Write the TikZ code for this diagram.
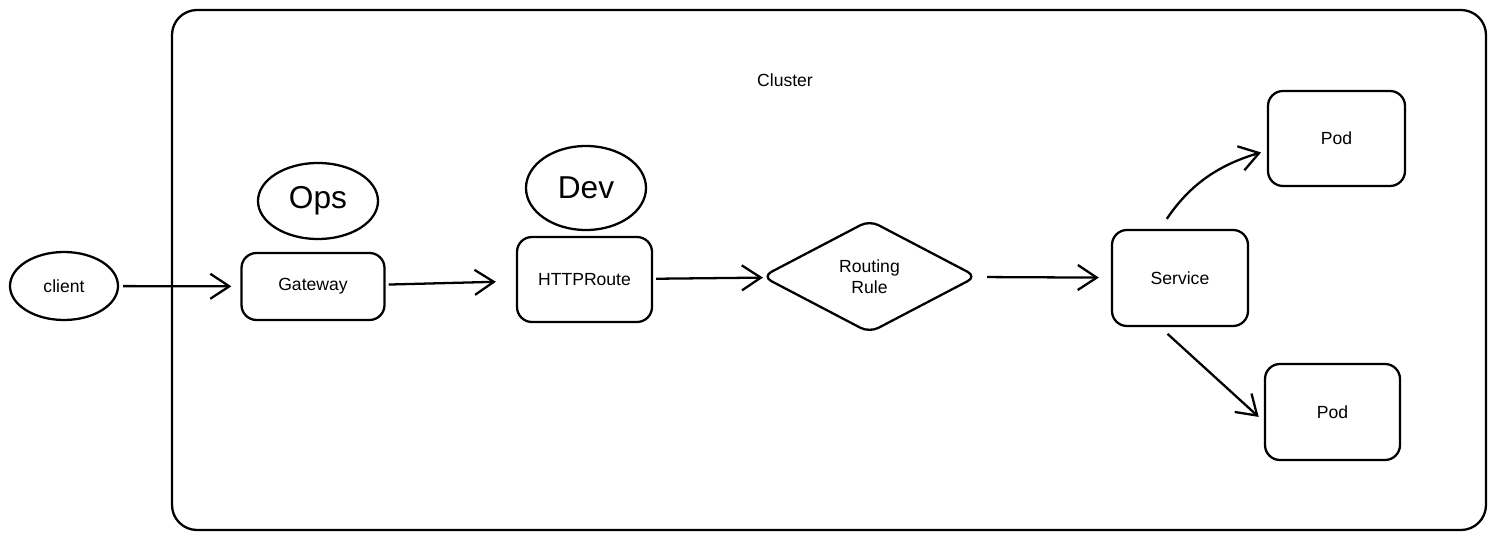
\documentclass[tikz,border=0pt]{standalone}
\usepackage{fontspec}
\setmainfont{Liberation Sans}
\usetikzlibrary{shapes.geometric,arrows.meta}

\begin{document}
\begin{tikzpicture}[
    line width=1.3pt,
    oval/.style={draw,ellipse,inner sep=0pt},
    box/.style={draw,rounded corners=0.3cm,inner sep=0pt},
    role/.style={oval,font=\fontsize{18}{20}\selectfont},
    link/.style={-{Straight Barb[length=0.38cm,width=0.5cm]}}
  ]
  \useasboundingbox (0,0) rectangle (29.92,-10.8);
  \draw[rounded corners=0.5cm] (3.44,-0.2) rectangle (29.72,-10.6);
  \draw
    (15.7,-1.6) node (cluster){Cluster}
    (1.28,-5.72) node[oval,minimum width=2.16cm,minimum height=1.36cm] (client){client}
    (6.36,-4.02) node[role,minimum width=2.4cm,minimum height=1.52cm] (ops){Ops}
    (11.72,-3.76) node[role,minimum width=2.4cm,minimum height=1.68cm] (dev){Dev}
    (6.26,-5.73) node[box,minimum width=2.86cm,minimum height=1.34cm] (gateway){Gateway}
    (11.69,-5.59) node[box,minimum width=2.7cm,minimum height=1.7cm] (route){HTTPRoute}
    (17.39,-5.53) node[draw,diamond,aspect=1.9,inner sep=0pt,rounded corners=0.2cm,
      minimum width=4.3cm,minimum height=2.26cm,align=center] (rule){Routing\\Rule}
    (23.6,-5.56) node[box,minimum width=2.72cm,minimum height=1.92cm] (service){Service}
    (26.73,-2.77) node[box,minimum width=2.74cm,minimum height=1.9cm] (pod1){Pod}
    (26.65,-8.24) node[box,minimum width=2.7cm,minimum height=1.92cm] (pod2){Pod};
  \begin{scope}[link]
    \draw[shorten <=0.08cm,shorten >=0.18cm] (client) to (gateway);
    \draw[shorten <=0.06cm,shorten >=0.4cm] (gateway) to (route);
    \draw[shorten <=0.06cm] (route) to (rule);
    \draw[shorten <=0.2cm,shorten >=0.24cm] (rule) to (service);
    \draw[shorten <=0.24cm,shorten >=0.12cm] (service.112) to[bend left=20] (pod1.190);
    \draw[shorten <=0.2cm,shorten >=0.14cm] (service.248) to (pod2.188);
  \end{scope}
\end{tikzpicture}
\end{document}
